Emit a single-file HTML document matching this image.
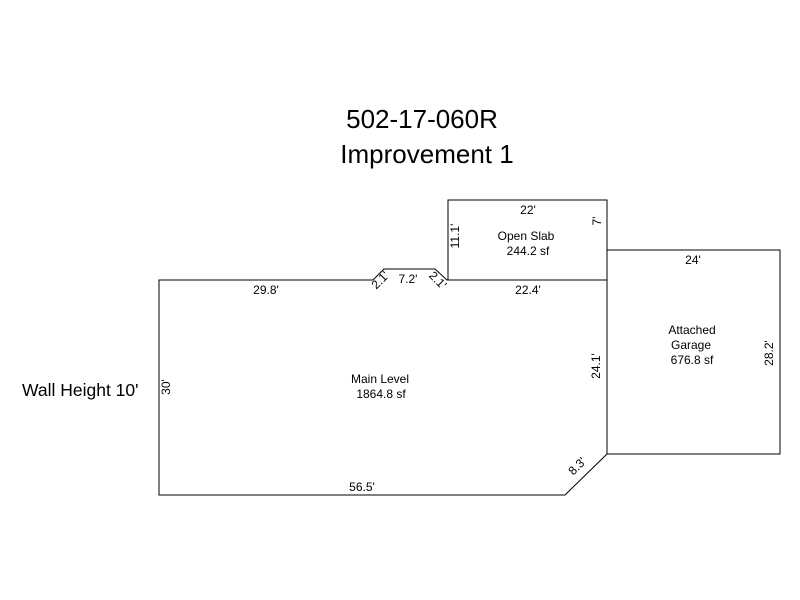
<!DOCTYPE html>
<html><head><style>
body{margin:0;background:#fff;}
svg{display:block;font-family:"Liberation Sans",Arial,sans-serif;}
</style></head><body>
<svg width="800" height="600" xmlns="http://www.w3.org/2000/svg">
<text x="422" y="128" font-size="26" text-anchor="middle">502-17-060R</text>
<text x="427" y="163" font-size="26" text-anchor="middle">Improvement 1</text>
<g fill="none" stroke="#000" stroke-width="1">
<polyline points="448,280 448,200 607,200 607,280"/>
<polyline points="607,250 780,250 780,454 607,454"/>
<polygon points="159,280 373,280 384,269 435,269 447,280 607,280 607,454 565,495 159,495"/>
</g>
<g font-size="12" text-anchor="middle">
<text x="528" y="214">22'</text>
<text x="526" y="240">Open Slab</text>
<text x="528" y="255">244.2 sf</text>
<text x="693" y="264">24'</text>
<text x="692" y="334">Attached</text>
<text x="691" y="349">Garage</text>
<text x="692" y="364">676.8 sf</text>
<text x="266" y="294">29.8'</text>
<text x="408" y="283">7.2'</text>
<text x="528" y="294">22.4'</text>
<text x="380" y="383">Main Level</text>
<text x="381" y="398">1864.8 sf</text>
<text x="362" y="491">56.5'</text>
<text x="459" y="236" transform="rotate(-90 459 236)">11.1'</text>
<text x="601" y="221" transform="rotate(-90 601 221)">7'</text>
<text x="773" y="353" transform="rotate(-90 773 353)">28.2'</text>
<text x="600" y="366" transform="rotate(-90 600 366)">24.1'</text>
<text x="170" y="387" transform="rotate(-90 170 387)">30'</text>
<text x="580" y="469" transform="rotate(-45 580 469)">8.3'</text>
<text x="383" y="283" transform="rotate(-45 383 283)">2.1'</text>
<text x="435" y="283" transform="rotate(45 435 283)">2.1'</text>
</g>
<text x="22" y="396" font-size="17.5">Wall Height 10'</text>
</svg>
</body></html>
